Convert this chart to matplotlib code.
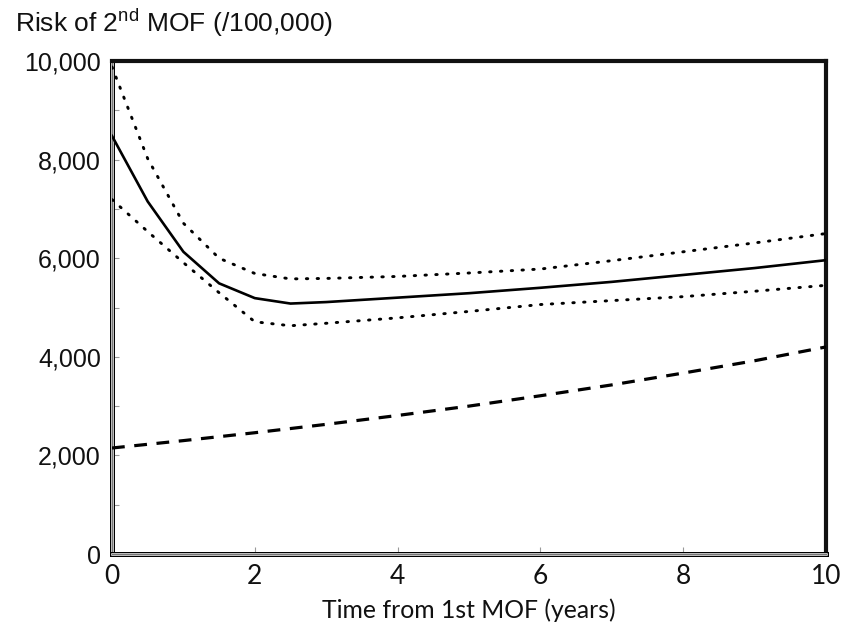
import matplotlib
matplotlib.use("Agg")
import matplotlib.pyplot as plt
import matplotlib.patheffects as pe
from matplotlib.ticker import MultipleLocator, FuncFormatter

# values
years = [0, 0.5, 1, 1.5, 2, 2.5, 3, 4, 5, 6, 7, 8, 9, 10]
risk_mid = [8480, 7150, 6130, 5490, 5190, 5080, 5110, 5200, 5290, 5400, 5520, 5660, 5800, 5960]
risk_upper = [9880, 8020, 6710, 6000, 5690, 5580, 5590, 5630, 5700, 5780, 5950, 6130, 6310, 6500]
risk_lower = [7190, 6540, 5910, 5300, 4710, 4630, 4680, 4790, 4920, 5060, 5140, 5220, 5330, 5450]

base_years = [0, 1, 2, 3, 4, 5, 6, 7, 8, 9, 10]
risk_base = [2150, 2300, 2460, 2630, 2810, 3000, 3210, 3430, 3670, 3920, 4200]

fig = plt.figure(figsize=(8.44, 6.27), dpi=100)
ax = fig.add_axes([112 / 844, 1 - 554 / 627, 714 / 844, 493 / 627])

ax.plot(years, risk_mid, color="black", lw=1.9, solid_joinstyle="round", zorder=3)
ax.plot(years, risk_upper, color="black", lw=2.1, linestyle=(0, (0.5, 3.2)),
        dash_capstyle="round", zorder=3)
ax.plot(years, risk_lower, color="black", lw=2.1, linestyle=(0, (0.5, 3.2)),
        dash_capstyle="round", zorder=3)
ax.plot(base_years, risk_base, color="black", lw=2.3, linestyle=(0, (4.0, 3.0)), zorder=3)

ax.set_xlim(0, 10)
ax.set_ylim(0, 10000)

# frame: thin double line left/bottom, heavy line top/right
for side in ["left", "bottom"]:
    sp = ax.spines[side]
    sp.set_linewidth(0.8)
    sp.set_color("#777777")
    sp.set_path_effects([pe.Stroke(linewidth=3.6, foreground="black"),
                         pe.Stroke(linewidth=1.8, foreground="white"), pe.Normal()])
for side in ["top", "right"]:
    ax.spines[side].set_linewidth(3.0)
    ax.spines[side].set_color("#111111")

ax.xaxis.set_major_locator(MultipleLocator(2))
ax.yaxis.set_major_locator(MultipleLocator(2000))
ax.yaxis.set_minor_locator(MultipleLocator(1000))
ax.yaxis.set_major_formatter(FuncFormatter(lambda v, p: f"{int(v):,}"))

ax.tick_params(axis="both", which="both", direction="in", color="#999999", width=0.8, length=5)
ax.tick_params(axis="y", which="major", pad=8, labelsize=18, labelcolor="#111111")
ax.tick_params(axis="x", which="major", pad=7, labelsize=19, labelcolor="#111111")
ax.tick_params(top=False, right=False)

for lab in ax.get_yticklabels():
    lab.set_family("Liberation Sans")
for lab in ax.get_xticklabels():
    lab.set_family("Lato")

ax.set_xlabel("Time from 1st MOF (years)", fontsize=17.8, family="Lato", labelpad=7, color="#111111")

fig.text(15 / 844, 1 - 32 / 627, r"Risk of 2$^{\mathregular{nd}}$ MOF (/100,000)",
         fontsize=19, family="Liberation Sans", va="baseline", ha="left", color="#111111")

fig.savefig("out.png", dpi=100)
